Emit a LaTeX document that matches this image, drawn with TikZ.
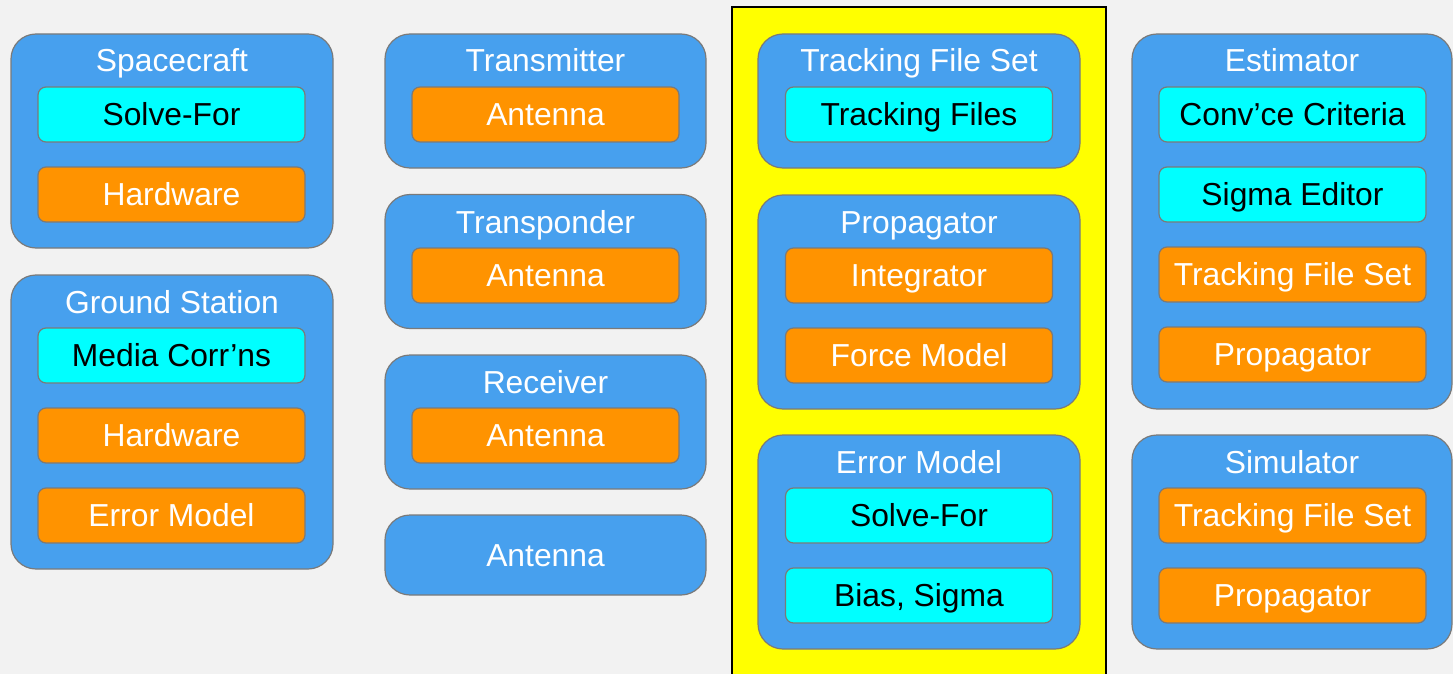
\documentclass[tikz,border=0pt]{standalone}
\usepackage{fontspec}
\setmainfont{Liberation Sans}
\definecolor{bg}{HTML}{F2F2F2}
\definecolor{boxblue}{HTML}{47A0EE}
\definecolor{boxcyan}{HTML}{00FFFF}
\definecolor{boxorange}{HTML}{FF9300}
\definecolor{hl}{HTML}{FFFF00}
\definecolor{edge}{HTML}{7A7A7A}
\tikzset{
  outerbox/.style={draw=edge, line width=1.2pt, fill=boxblue, rounded corners=25pt, inner sep=0pt},
  innerbox/.style={draw=edge, line width=1.2pt, rounded corners=8pt, inner sep=0pt,
    minimum height=55pt, text height=22pt, text depth=0pt,
    font=\fontsize{31.8}{36}\selectfont},
  cyanbox/.style={innerbox, fill=boxcyan, text=black},
  orangebox/.style={innerbox, fill=boxorange, text=white},
  titletext/.style={anchor=base, text=white, inner sep=0pt, font=\fontsize{31.8}{36}\selectfont},
  c1/.style={minimum width=322pt},
  c2/.style={minimum width=321pt},
  c3/.style={minimum width=322pt},
  c4/.style={minimum width=320pt},
  i1/.style={minimum width=267pt},
}
\begin{document}
\begin{tikzpicture}[x=1pt, y=-1pt]
\useasboundingbox (0,0) rectangle (1453,674);
\clip (0,0) rectangle (1453,674);
\fill[bg] (0,0) rectangle (1453,674);
\draw[fill=hl, line width=2pt] (732,7) rectangle (1106,690);

% Column 1
\node[outerbox, c1, minimum height=214pt] (sc) at (172,141) {};
\node[titletext] (sct) at (172,72) {Spacecraft};
\node[cyanbox, i1] (scs) at (171.5,114.5) {Solve-For};
\node[orangebox, i1] (sch) at (171.5,194.5) {Hardware};

\node[outerbox, c1, minimum height=294pt] (gs) at (172,422) {};
\node[titletext] (gst) at (172,313) {Ground Station};
\node[cyanbox, i1] (gsm) at (171.5,355.5) {Media Corr’ns};
\node[orangebox, i1] (gsh) at (171.5,435.5) {Hardware};
\node[orangebox, i1] (gse) at (171.5,515.5) {Error Model};

% Column 2
\node[outerbox, c2, minimum height=134pt] (tx) at (545.5,101) {};
\node[titletext] (txt) at (545.5,72) {Transmitter};
\node[orangebox, i1] (txa) at (545.5,114.5) {Antenna};

\node[outerbox, c2, minimum height=134pt] (tp) at (545.5,261.5) {};
\node[titletext] (tpt) at (545.5,233) {Transponder};
\node[orangebox, i1] (tpa) at (545.5,275.5) {Antenna};

\node[outerbox, c2, minimum height=134pt] (rx) at (545.5,422) {};
\node[titletext] (rxt) at (545.5,393) {Receiver};
\node[orangebox, i1] (rxa) at (545.5,435.5) {Antenna};

\node[outerbox, c2, minimum height=80pt] (an) at (545.5,555) {};
\node[titletext] (ant) at (545.5,566) {Antenna};

% Column 3
\node[outerbox, c3, minimum height=134pt] (tf) at (919,101) {};
\node[titletext] (tft) at (919,72) {Tracking File Set};
\node[cyanbox, i1] (tff) at (919,114.5) {Tracking Files};

\node[outerbox, c3, minimum height=214pt] (pr) at (919,302) {};
\node[titletext] (prt) at (919,233) {Propagator};
\node[orangebox, i1] (pri) at (919,275.5) {Integrator};
\node[orangebox, i1] (prf) at (919,355.5) {Force Model};

\node[outerbox, c3, minimum height=214pt] (em) at (919,542) {};
\node[titletext] (emt) at (919,473) {Error Model};
\node[cyanbox, i1] (ems) at (919,515.5) {Solve-For};
\node[cyanbox, i1] (emb) at (919,595.5) {Bias, Sigma};

% Column 4
\node[outerbox, c4, minimum height=375pt] (es) at (1292,221.5) {};
\node[titletext] (est) at (1292,72) {Estimator};
\node[cyanbox, i1] (esc) at (1292.5,114.5) {Conv’ce Criteria};
\node[cyanbox, i1] (ess) at (1292.5,194.5) {Sigma Editor};
\node[orangebox, i1] (est2) at (1292.5,274.5) {Tracking File Set};
\node[orangebox, i1] (esp) at (1292.5,354.5) {Propagator};

\node[outerbox, c4, minimum height=214pt] (si) at (1292,542) {};
\node[titletext] (sit) at (1292,473) {Simulator};
\node[orangebox, i1] (sit2) at (1292.5,515.5) {Tracking File Set};
\node[orangebox, i1] (sip) at (1292.5,595.5) {Propagator};
\end{tikzpicture}
\end{document}
